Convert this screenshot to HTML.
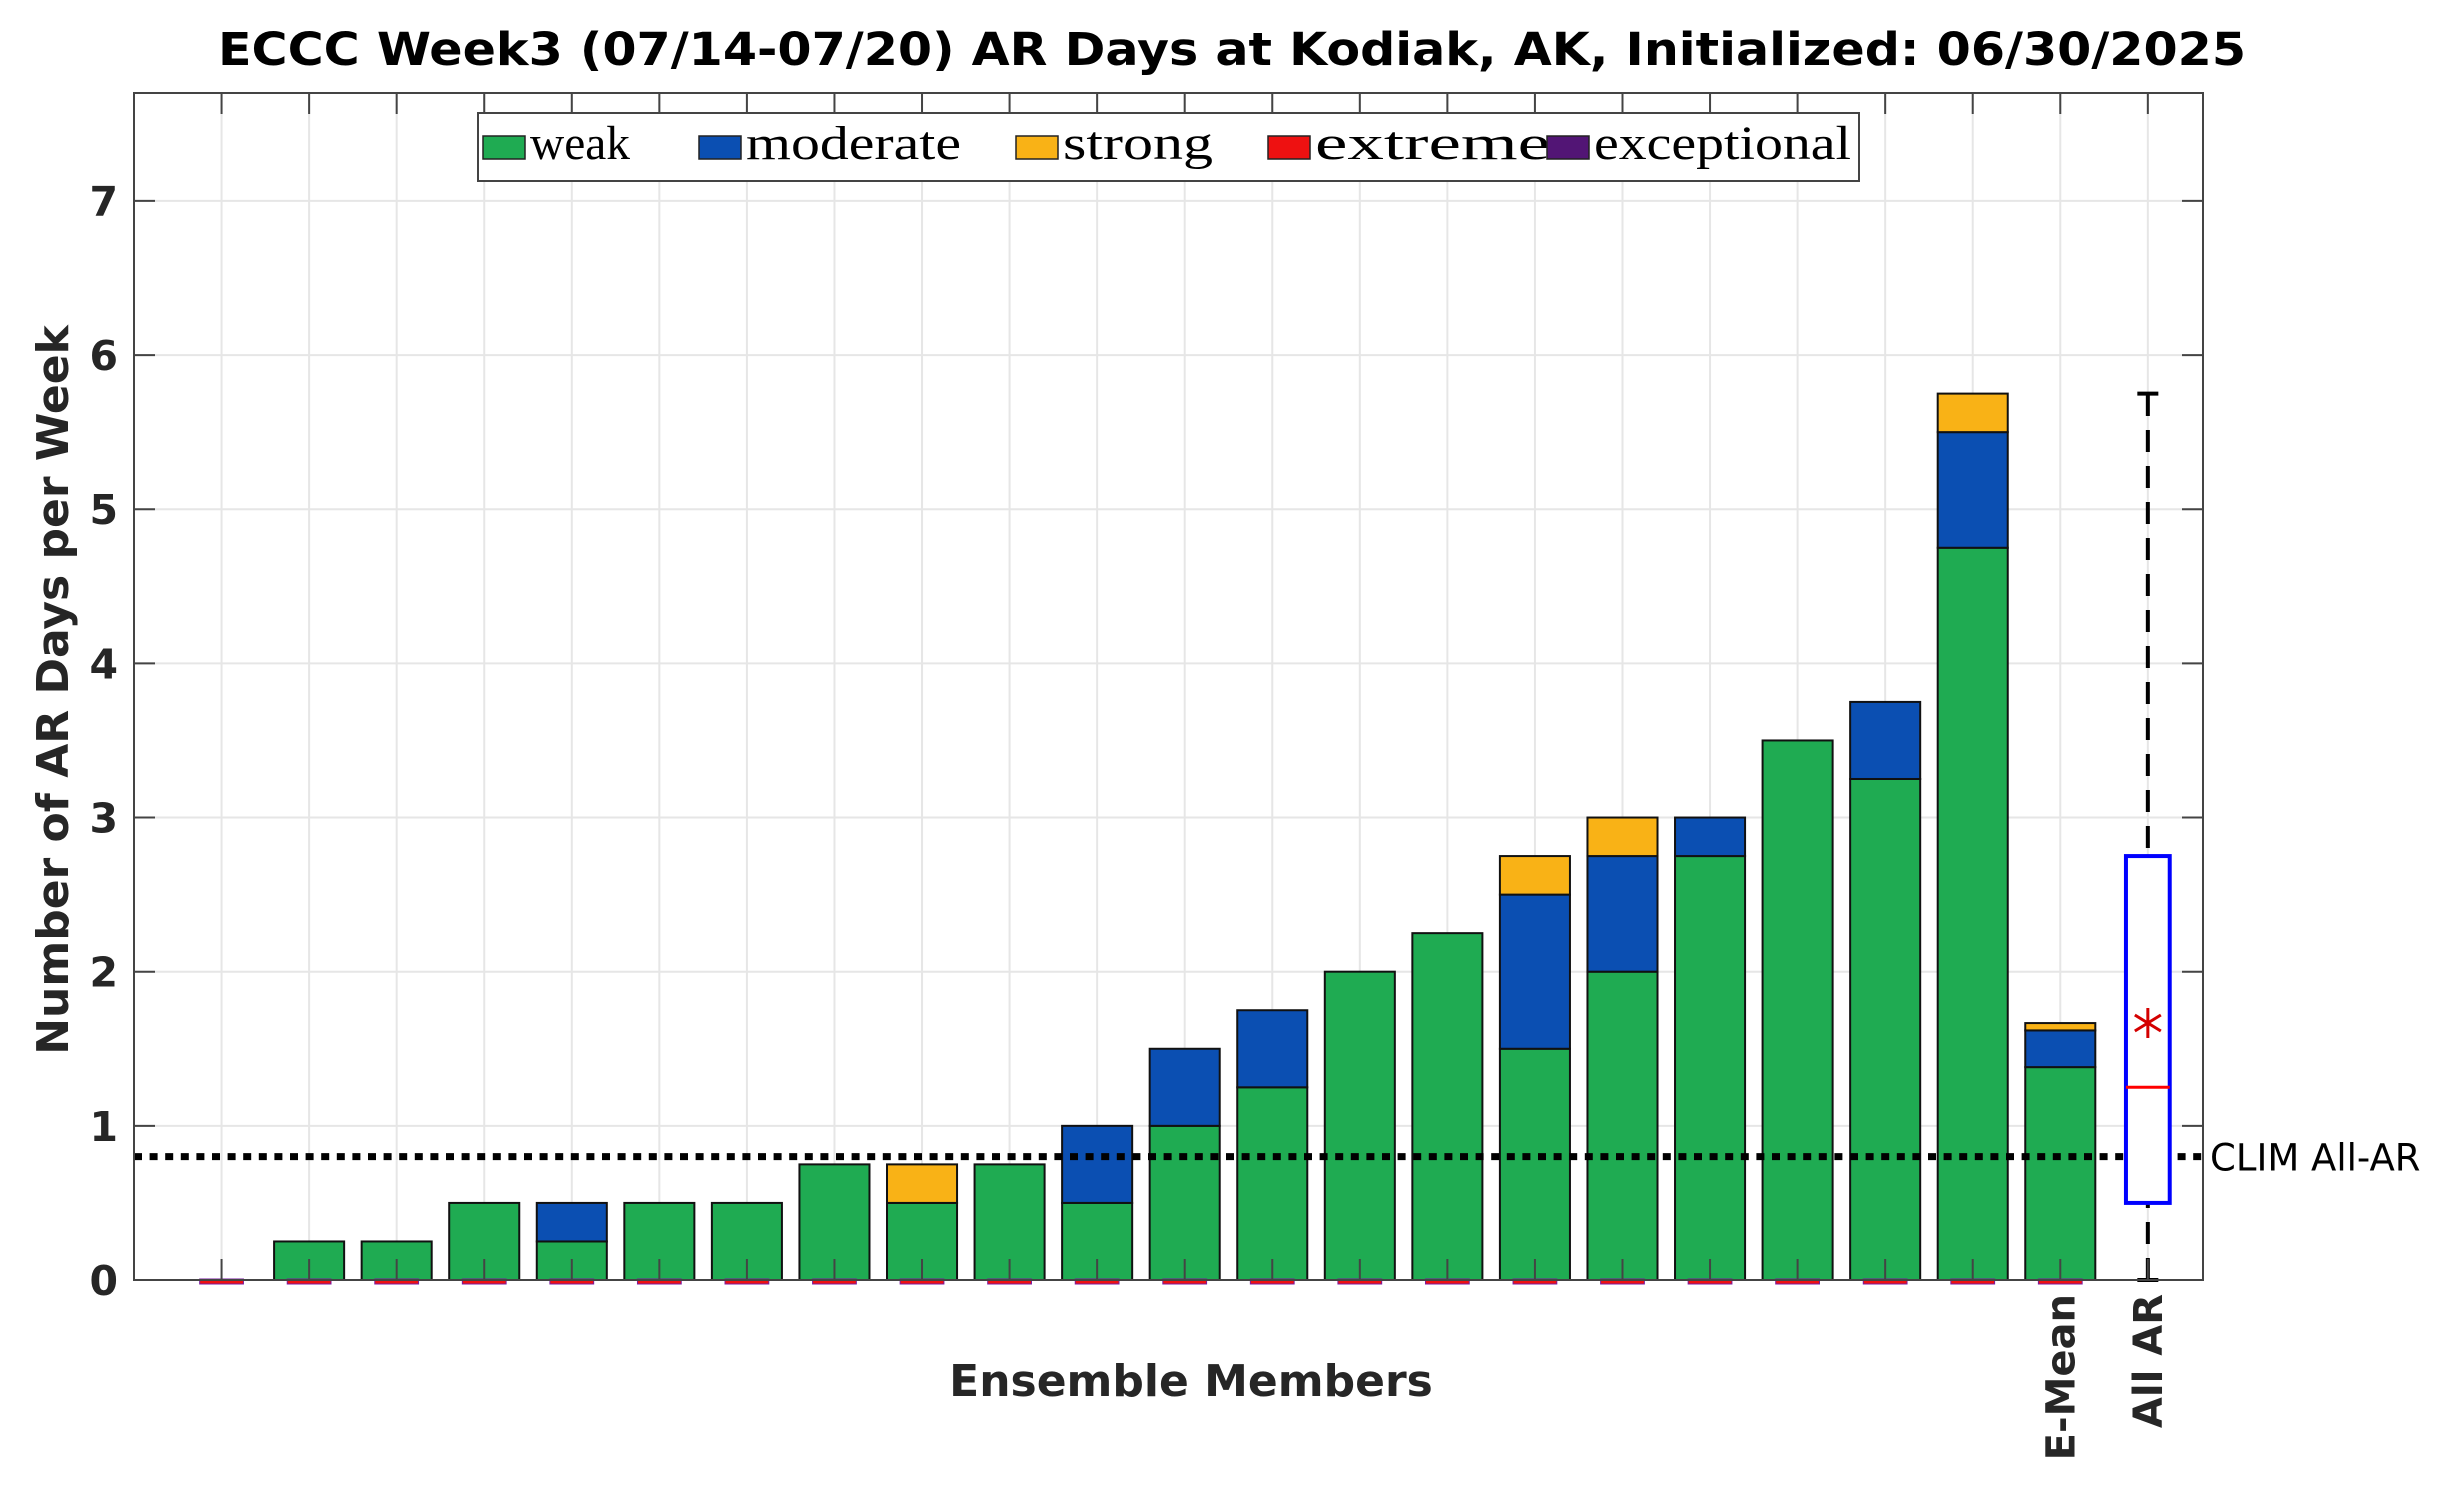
<!DOCTYPE html>
<html><head><meta charset="utf-8"><style>
html,body{margin:0;padding:0;background:#fff;}
svg{display:block;}
</style></head><body>
<svg id="chart" width="2464" height="1505" viewBox="0 0 2464 1505" xmlns="http://www.w3.org/2000/svg">
<rect x="0" y="0" width="2464" height="1505" fill="#fff"/>
<g id="grid"></g>
<g id="bars"></g>
<g id="box"></g>
<g id="axes"></g>
<text x="1232" y="65" text-anchor="middle" font-family="DejaVu Sans, Liberation Sans, sans-serif" font-weight="bold" font-size="45" textLength="2028" lengthAdjust="spacingAndGlyphs" fill="#000">ECCC Week3 (07/14-07/20) AR Days at Kodiak, AK, Initialized: 06/30/2025</text>
<text transform="translate(68,690) rotate(-90)" text-anchor="middle" font-family="DejaVu Sans, Liberation Sans, sans-serif" font-weight="bold" font-size="44" fill="#262626">Number of AR Days per Week</text>
<text x="1191" y="1396" text-anchor="middle" font-family="DejaVu Sans, Liberation Sans, sans-serif" font-weight="bold" font-size="44" fill="#262626">Ensemble Members</text>
<g id="legend"></g>
</svg>
<script>
const categories = ["1","2","3","4","5","6","7","8","9","10","11","12","13","14","15","16","17","18","19","20","21"];
const weak =     [0,0.25,0.25,0.5,0.25,0.5,0.5,0.75,0.5,0.75,0.5,1,1.25,2,2.25,1.5,2,2.75,3.5,3.25,4.75];
const moderate = [0,0,0,0,0.25,0,0,0,0,0,0.5,0.5,0.5,0,0,1,0.75,0.25,0,0.5,0.75];
const strong =   [0,0,0,0,0,0,0,0,0.25,0,0,0,0,0,0,0.25,0.25,0,0,0,0.25];
const extreme =  [0,0,0,0,0,0,0,0,0,0,0,0,0,0,0,0,0,0,0,0,0];
const yTicks = [0,1,2,3,4,5,6,7];
const climAllAR = 0.8;
const boxStats = [0, 0.5, 1.25, 2.75, 5.75]; // min, q1, median, q3, max
const boxMean = [1.667];
const legendLabels = ["weak","moderate","strong","extreme","exceptional"];

const NS="http://www.w3.org/2000/svg";
const L=134, R=2203, T=113-20, B=1280;
const XMAX=23.63, YMAX=7.7;
const xs=v=>L+v*(R-L)/XMAX;
const ys=v=>B-v*(B-T)/YMAX;
function mk(parent,tag,attrs){const e=document.createElementNS(NS,tag);for(const k in attrs)e.setAttribute(k,attrs[k]);parent.appendChild(e);return e;}
const colors={weak:"#1fab52",moderate:"#0b4fb2",strong:"#f9b216",extreme:"#ee1111",exceptional:"#521575"};

const grid=document.getElementById('grid');
const nPos=categories.length+2;
for(let i=1;i<=nPos;i++){const g=mk(grid,'line',{x1:xs(i),x2:xs(i),y1:T,y2:B,stroke:'#e6e6e6','stroke-width':2});
}
yTicks.forEach(t=>{const g=mk(grid,'line',{x1:L,x2:R,y1:ys(t),y2:ys(t),stroke:'#e6e6e6','stroke-width':2});
});

const bars=document.getElementById('bars');
const bw=0.8;
function drawSeries(vals,fill,name,base){
  vals.forEach((v,i)=>{const b0=base[i];if(v>0){const r=mk(bars,'rect',{x:xs(i+1-bw/2),y:ys(b0+v),width:xs(bw)-xs(0),height:ys(b0)-ys(b0+v),fill:fill,stroke:'#111','stroke-width':2});
  
  }});
}
const meanOf=a=>a.reduce((s,v)=>s+v,0)/a.length;
const W=weak.concat([meanOf(weak)]);
const M=moderate.concat([meanOf(moderate)]);
const S=strong.concat([meanOf(strong)]);
categories.push("E-Mean");
const zero=W.map(()=>0);
drawSeries(W,colors.weak,'weak',zero);
drawSeries(M,colors.moderate,'moderate',W);
drawSeries(S,colors.strong,'strong',W.map((v,i)=>v+M[i]));
categories.pop();
// zero-height extreme/exceptional marks
for(let i=0;i<W.length;i++){
  const m=mk(bars,'rect',{x:xs(i+1-0.25),y:B-1,width:xs(0.5)-xs(0),height:5,fill:colors.extreme,stroke:'#7a1aa0','stroke-width':1});
  
  
}

// CLIM line
const clim=mk(bars,'line',{x1:L,x2:R,y1:ys(climAllAR),y2:ys(climAllAR),stroke:'#000','stroke-width':7,'stroke-dasharray':'8 7.6'});


const ct=mk(bars,'text',{x:R+7,y:ys(climAllAR)+14,'font-family':'DejaVu Sans, Liberation Sans, sans-serif','font-size':37,fill:'#000'});
ct.textContent='CLIM All-AR';



// box plot
const box=document.getElementById('box');
const bx=nPos, hw=0.25;
const wl=mk(box,'line',{x1:xs(bx),x2:xs(bx),y1:ys(boxStats[0]),y2:ys(boxStats[4]),stroke:'#000','stroke-width':4,'stroke-dasharray':'22 14'});

[boxStats[0],boxStats[4]].forEach(v=>{const c=mk(box,'line',{x1:xs(bx-0.12),x2:xs(bx+0.12),y1:ys(v),y2:ys(v),stroke:'#000','stroke-width':4});
});
const br=mk(box,'rect',{x:xs(bx-hw),y:ys(boxStats[3]),width:xs(2*hw)-xs(0),height:ys(boxStats[1])-ys(boxStats[3]),fill:'#fff',stroke:'#0000ff','stroke-width':4});

const md=mk(box,'line',{x1:xs(bx-hw),x2:xs(bx+hw),y1:ys(boxStats[2]),y2:ys(boxStats[2]),stroke:'#ff0000','stroke-width':3});

const mx=xs(bx), my=ys(boxMean[0]);
const st=mk(box,'path',{d:`M${mx},${my-15}V${my+15}M${mx-13},${my-8}L${mx+13},${my+8}M${mx-13},${my+8}L${mx+13},${my-8}`,stroke:'#d40000','stroke-width':3,fill:'none'});


// axes
const ax=document.getElementById('axes');
const fr=mk(ax,'rect',{x:L,y:T,width:R-L,height:B-T,fill:'none',stroke:'#444','stroke-width':2});

for(let i=1;i<=nPos;i++){
  const t1=mk(ax,'line',{x1:xs(i),x2:xs(i),y1:T,y2:T+21,stroke:'#444','stroke-width':2});
  
  const t2=mk(ax,'line',{x1:xs(i),x2:xs(i),y1:B,y2:B-21,stroke:'#444','stroke-width':2});
  
}
yTicks.forEach(t=>{
  const a=mk(ax,'line',{x1:L,x2:L+21,y1:ys(t),y2:ys(t),stroke:'#444','stroke-width':2});
  
  const b=mk(ax,'line',{x1:R,x2:R-21,y1:ys(t),y2:ys(t),stroke:'#444','stroke-width':2});
  
  const lb=mk(ax,'text',{x:118,y:ys(t)+15,'text-anchor':'end','font-family':'DejaVu Sans, Liberation Sans, sans-serif','font-weight':'bold','font-size':41,fill:'#262626'});
  lb.textContent=String(t);
  
});
[["E-Mean",nPos-1],["All AR",nPos]].forEach(([s,p])=>{
  const tx=mk(ax,'text',{transform:`translate(${xs(p)+14},${B+14}) rotate(-90)`,'text-anchor':'end','font-family':'DejaVu Sans, Liberation Sans, sans-serif','font-weight':'bold','font-size':40,fill:'#262626'});
  tx.textContent=s;
  
});

// legend
const lg=document.getElementById('legend');
const lf=mk(lg,'rect',{x:478,y:113,width:1381,height:68,fill:'#fff',stroke:'#444','stroke-width':2});

const lx=[483,699,1016,1268,1547], lw=[100,215,150,235,257];
legendLabels.forEach((s,i)=>{
  const sw=mk(lg,'rect',{x:lx[i],y:136,width:42,height:23,fill:colors[s],stroke:'#222','stroke-width':1.5});
  
  const t=mk(lg,'text',{x:lx[i]+47,y:159,'font-family':'Liberation Serif, serif','font-size':48,fill:'#000',textLength:lw[i],lengthAdjust:'spacingAndGlyphs'});
  t.textContent=s;
  
});
</script>
</body></html>
